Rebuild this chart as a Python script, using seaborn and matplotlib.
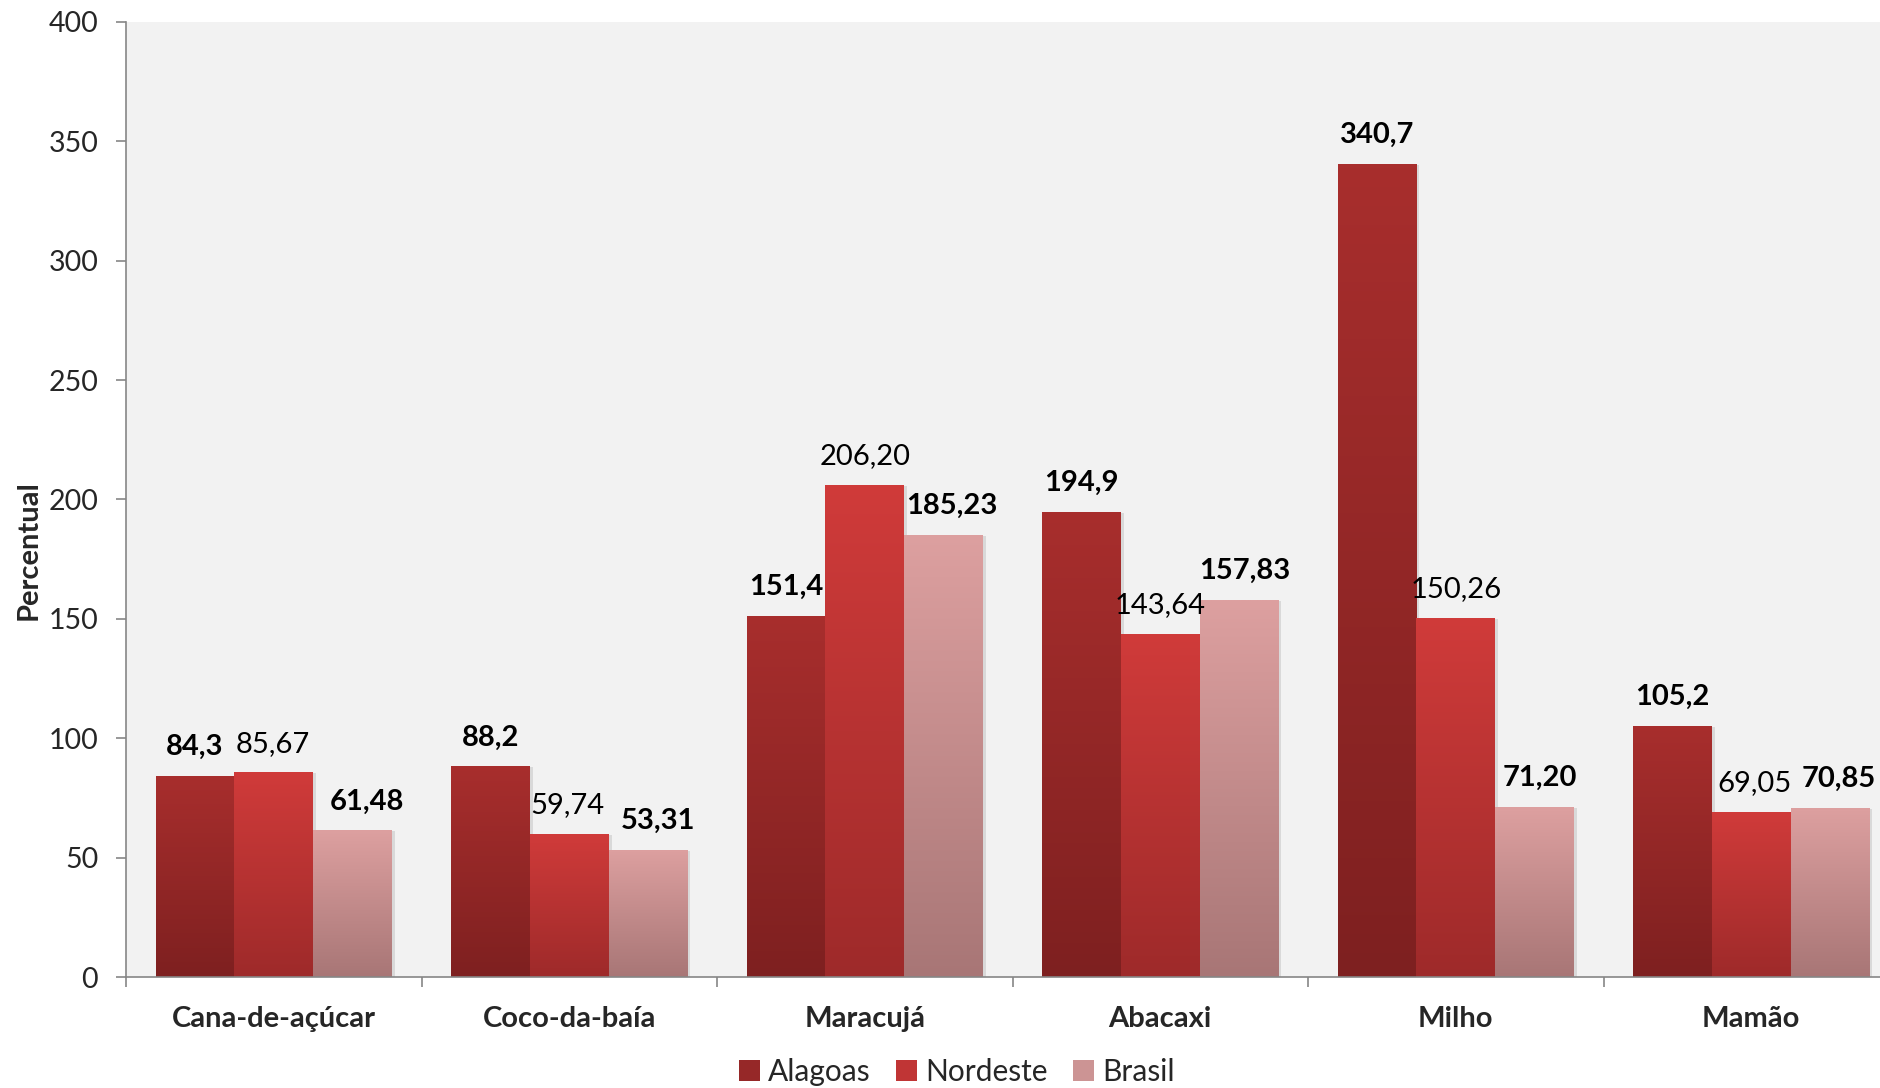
import numpy as np
import pandas as pd
import matplotlib
matplotlib.use("Agg")
import matplotlib.pyplot as plt
from matplotlib.patches import Patch
from matplotlib.colors import LinearSegmentedColormap
import seaborn as sns

categories = ["Cana-de-açúcar", "Coco-da-baía", "Maracujá", "Abacaxi", "Milho", "Mamão"]
series = ["Alagoas", "Nordeste", "Brasil"]
alagoas = [84.3, 88.2, 151.4, 194.9, 340.7, 105.2]
nordeste = [85.67, 59.74, 206.20, 143.64, 150.26, 69.05]
brasil = [61.48, 53.31, 185.23, 157.83, 71.20, 70.85]
alagoas_lbl = ["84,3", "88,2", "151,4", "194,9", "340,7", "105,2"]
nordeste_lbl = ["85,67", "59,74", "206,20", "143,64", "150,26", "69,05"]
brasil_lbl = ["61,48", "53,31", "185,23", "157,83", "71,20", "70,85"]
yticks = [0, 50, 100, 150, 200, 250, 300, 350, 400]

# label horizontal nudges (points), style only
label_dx = [
    [0, 0, 0, 0, 0, 0],
    [-1, -1, 0, 0, 0, 2],
    [10, 7, 6, 4, 4, 6],
]

grad_top = {"Alagoas": "#A82E2D", "Nordeste": "#D03B3A", "Brasil": "#DDA0A0"}
grad_bot = {"Alagoas": "#7E2020", "Nordeste": "#9E2A2A", "Brasil": "#A87676"}
legend_col = {"Alagoas": "#962828", "Nordeste": "#C03535", "Brasil": "#CC9494"}

df = pd.DataFrame({
    "cat": categories * 3,
    "serie": sum([[s] * len(categories) for s in series], []),
    "val": alagoas + nordeste + brasil,
})

sns.set_theme(style="white")
plt.rcParams["font.family"] = ["Lato", "DejaVu Sans"]

W, H = 1880, 1088
fig = plt.figure(figsize=(W / 100, H / 100), dpi=100)
ax = fig.add_axes([126 / W, 1 - 977 / H, 1773 / W, 955 / H])
ax.set_facecolor("#F2F2F2")

sns.barplot(data=df, x="cat", y="val", hue="serie", order=categories,
            hue_order=series, palette=legend_col, width=0.8, ax=ax,
            legend=False, saturation=1, errorbar=None, linewidth=0)

ax.set_xlim(-0.5, 5.5)
ax.set_ylim(0, 400)

labels_all = [alagoas_lbl, nordeste_lbl, brasil_lbl]
bold = [True, False, True]
for si, (cont, s) in enumerate(zip(ax.containers, series)):
    cmap = LinearSegmentedColormap.from_list(s, [grad_bot[s], grad_top[s]])
    for bi, bar in enumerate(cont.patches):
        x0, y0 = bar.get_x(), bar.get_y()
        w, h = bar.get_width(), bar.get_height()
        bar.set_facecolor("none")
        bar.set_edgecolor("none")
        sh = plt.Rectangle((x0, y0), w, h, facecolor="#000000", alpha=0.10,
                           edgecolor="none", zorder=1.5)
        sh.set_transform(ax.transData + matplotlib.transforms.ScaledTranslation(
            3 / 100, -1 / 100, fig.dpi_scale_trans))
        ax.add_patch(sh)
        grad = np.linspace(0, 1, 256).reshape(-1, 1)
        im = ax.imshow(grad, cmap=cmap, origin="lower", aspect="auto",
                       extent=(x0, x0 + w, y0, y0 + h), zorder=2,
                       interpolation="bilinear")
        im.set_clip_path(bar)
        ax.annotate(labels_all[si][bi], (x0 + w / 2, h),
                    xytext=(label_dx[si][bi], 15),
                    textcoords="offset points", ha="center", va="baseline",
                    fontsize=21, fontweight="bold" if bold[si] else "normal",
                    color="black", zorder=5)

ax.set_xlim(-0.5, 5.5)
ax.set_ylim(0, 400)

for sp in ["top", "right"]:
    ax.spines[sp].set_visible(False)
for sp in ["left", "bottom"]:
    ax.spines[sp].set_color("#868686")
    ax.spines[sp].set_linewidth(1.2)

ax.set_yticks(yticks)
ax.set_yticklabels([str(v) for v in yticks], fontsize=20.5)
ax.tick_params(axis="y", which="major", direction="out", length=7,
               width=1.2, color="#868686", pad=13, left=True)
ax.set_xticks(range(len(categories)))
ax.set_xticklabels(categories, fontsize=21, fontweight="bold")
ax.tick_params(axis="x", which="major", length=0, pad=21)
ax.set_xticks(np.arange(-0.5, 6, 1.0), minor=True)
ax.tick_params(axis="x", which="minor", direction="out", length=7,
               width=1.2, color="#868686", bottom=True)
ax.set_xlabel("")
ax.set_ylabel("")
ax.grid(False)

fig.text(29 / W, 1 - 550 / H, "Percentual", rotation=90, ha="center",
         va="center", fontsize=21, fontweight="bold")

handles = [Patch(facecolor=legend_col[s], edgecolor="none") for s in series]
fig.legend(handles, series, loc="center", bbox_to_anchor=(957 / W, 1 - 1072 / H),
           ncol=3, frameon=False, fontsize=21.5, handlelength=0.7,
           handleheight=0.7, handletextpad=0.28, columnspacing=0.85)

fig.savefig("out.png", dpi=100)
